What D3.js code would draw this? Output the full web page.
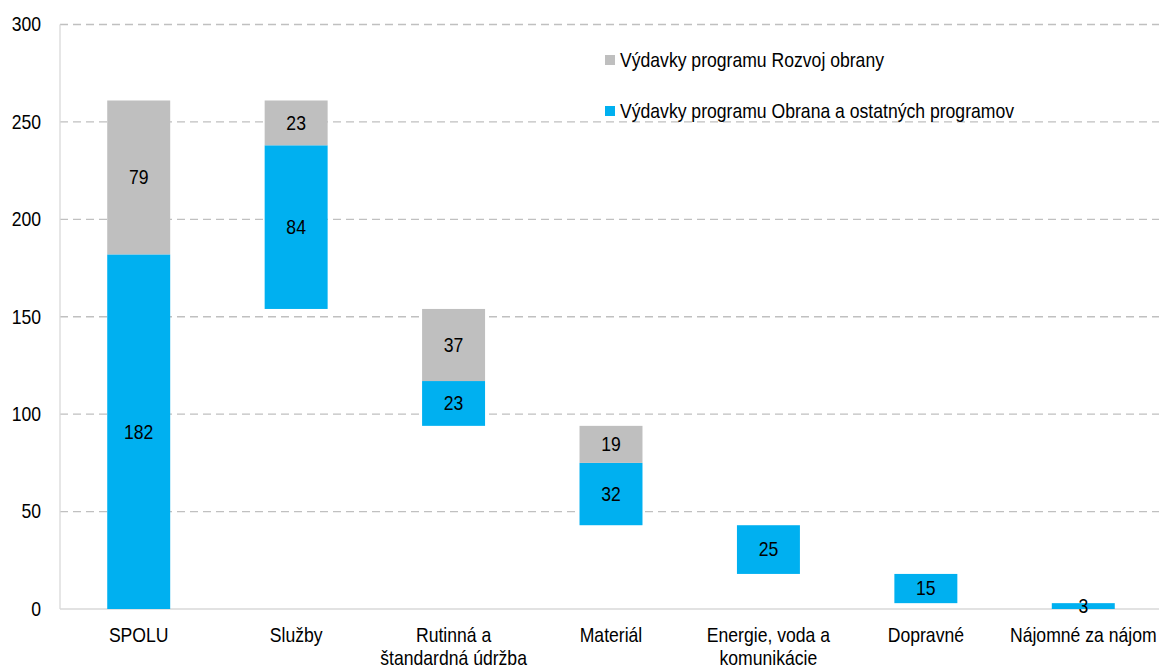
<!DOCTYPE html>
<html>
<head>
<meta charset="utf-8">
<script src="https://cdn.jsdelivr.net/npm/d3@7"></script>
<style>
  html, body { margin: 0; padding: 0; background: #fff; }
  text { font-family: "Liberation Sans", Arial, sans-serif; fill: #000; }
</style>
</head>
<body>
<div id="chart"></div>
<script>
// Dáta grafu
const categories = ['SPOLU', 'Služby', 'Rutinná a|štandardná údržba', 'Materiál', 'Energie, voda a|komunikácie', 'Dopravné', 'Nájomné za nájom']
const obrana = [182, 84, 23, 32, 25, 15, 3]   // modrá
const rozvoj = [79, 23, 37, 19, 0, 0, 0]      // sivá
const yTicks = [0, 50, 100, 150, 200, 250, 300]
const legendLabels = ['Výdavky programu Rozvoj obrany', 'Výdavky programu Obrana a ostatných programov']

const width = 1159, height = 668
const margin = { top: 24.5, right: 0, bottom: 59, left: 60 }
const innerWidth = width - margin.left - margin.right
const innerHeight = height - margin.top - margin.bottom
const colors = { obrana: '#00b0f0', rozvoj: '#bfbfbf' }
const sx = 0.88 // zúženie písma

const svg = d3.select('#chart').append('svg')
  .attr('width', width).attr('height', height)

const g = svg.append('g').attr('transform', `translate(${margin.left},${margin.top})`)

const x = d3.scaleBand().domain(categories).range([0, 1102]).paddingInner(0.6).paddingOuter(0.3)
const y = d3.scaleLinear().domain([0, 300]).range([innerHeight, 0])

// Vodopád: SPOLU stojí na nule, ostatné klesajú od celku
const rows = []
let level = obrana[0] + rozvoj[0]
categories.forEach((c, i) => {
  const total = obrana[i] + rozvoj[i]
  const base = i === 0 ? 0 : level - total
  rows.push({ cat: c, base, obrana: obrana[i], rozvoj: rozvoj[i] })
  if (i > 0) level = base
})

// Mriežka
g.selectAll('.grid').data(yTicks.filter(d => d > 0)).join('line')
  .attr('x1', 0).attr('x2', innerWidth)
  .attr('y1', d => y(d)).attr('y2', d => y(d))
  .attr('stroke', '#c0c0c0').attr('stroke-width', 1.3).attr('stroke-dasharray', '8,5')

// Osi
g.append('line').attr('x1', 0).attr('x2', 0).attr('y1', 0).attr('y2', innerHeight)
  .attr('stroke', '#d9d9d9').attr('stroke-width', 1.3)
g.append('line').attr('x1', 0).attr('x2', innerWidth).attr('y1', innerHeight).attr('y2', innerHeight)
  .attr('stroke', '#d9d9d9').attr('stroke-width', 1.3)

function label(sel, tx, ty, str, anchor) {
  return sel.append('text')
    .attr('transform', `translate(${tx},${ty}) scale(${sx},1)`)
    .attr('text-anchor', anchor || 'middle')
    .attr('dominant-baseline', 'central')
    .attr('font-size', 20)
    .text(str)
}

yTicks.forEach(t => label(g, -19, y(t), t, 'end'))

// Stĺpce
rows.forEach(r => {
  const x0 = x(r.cat), bw = x.bandwidth(), cx = x0 + bw / 2
  g.append('rect').attr('x', x0).attr('width', bw)
    .attr('y', y(r.base + r.obrana)).attr('height', y(r.base) - y(r.base + r.obrana))
    .attr('fill', colors.obrana)
  if (r.rozvoj > 0) {
    g.append('rect').attr('x', x0).attr('width', bw)
      .attr('y', y(r.base + r.obrana + r.rozvoj)).attr('height', y(r.base + r.obrana) - y(r.base + r.obrana + r.rozvoj))
      .attr('fill', colors.rozvoj)
  }
  label(g, cx, y(r.base + r.obrana / 2), r.obrana)
  if (r.rozvoj > 0) label(g, cx, y(r.base + r.obrana + r.rozvoj / 2), r.rozvoj)

  // popisky kategórií
  r.cat.split('|').forEach((line, k) => label(g, cx, innerHeight + 26 + k * 23, line))
})

// Legenda
const leg = [{ t: legendLabels[0], c: colors.rozvoj, y: 60 }, { t: legendLabels[1], c: colors.obrana, y: 111 }]
leg.forEach(l => {
  svg.append('rect').attr('x', 605).attr('y', l.y - 5).attr('width', 10).attr('height', 10).attr('fill', l.c)
  label(svg, 620, l.y, l.t, 'start')
})
</script>
</body>
</html>
